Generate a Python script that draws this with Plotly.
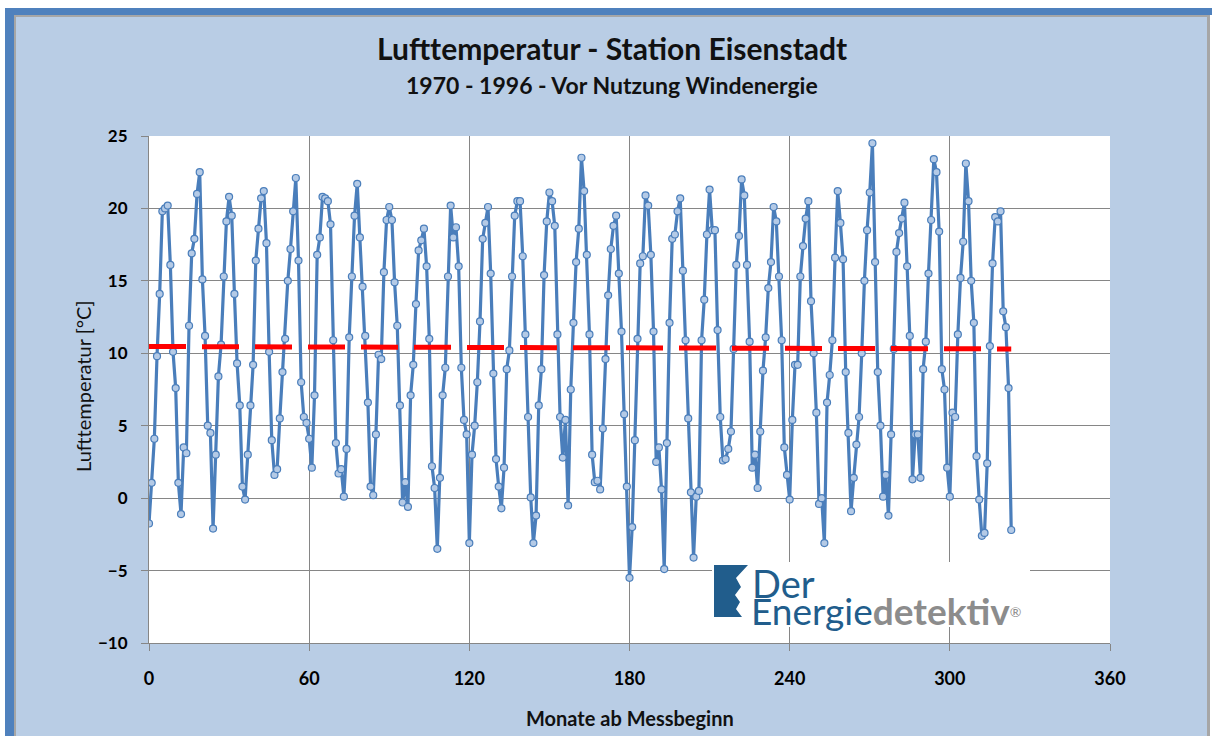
import plotly.graph_objects as go

W, H = 1212, 736
PL, PR, PT, PB = 149, 1110, 136, 643  # plot area in pixels

months = list(range(324))
temperature = [
    -1.75, 1.06, 4.1, 9.8, 14.1, 19.8, 20.0, 20.2, 16.1, 10.1, 7.6, 1.06,
    -1.1, 3.5, 3.1, 11.9, 16.9, 17.9, 21.0, 22.5, 15.1, 11.2, 5.0, 4.5,
    -2.1, 3.0, 8.4, 10.6, 15.3, 19.1, 20.8, 19.5, 14.1, 9.3, 6.4, 0.8,
    -0.1, 3.0, 6.4, 9.2, 16.4, 18.6, 20.7, 21.2, 17.6, 10.1, 4.0, 1.6,
    2.0, 5.5, 8.7, 11.0, 15.0, 17.2, 19.8, 22.1, 16.4, 8.0, 5.6, 5.2,
    4.1, 2.1, 7.1, 16.8, 18.0, 20.8, 20.7, 20.5, 18.9, 10.9, 3.8, 1.7,
    2.0, 0.1, 3.4, 11.1, 15.3, 19.5, 21.7, 18.0, 14.6, 11.2, 6.6, 0.8,
    0.2, 4.4, 9.9, 9.6, 15.6, 19.2, 20.1, 19.2, 14.9, 11.9, 6.4, -0.3,
    1.1, -0.6, 7.1, 9.2, 13.4, 17.1, 17.8, 18.6, 16.0, 11.0, 2.2, 0.7,
    -3.5, 1.4, 7.1, 9.0, 15.3, 20.2, 18.0, 18.7, 16.0, 9.0, 5.4, 4.4,
    -3.1, 3.0, 5.0, 8.0, 12.2, 17.9, 19.0, 20.1, 15.5, 8.6, 2.7, 0.8,
    -0.7, 2.1, 8.9, 10.2, 15.3, 19.5, 20.5, 20.5, 16.7, 11.3, 5.6, 0.05,
    -3.1, -1.2, 6.4, 8.9, 15.4, 19.1, 21.1, 20.5, 18.8, 11.3, 5.6, 2.8,
    5.4, -0.5, 7.5, 12.1, 16.3, 18.6, 23.5, 21.2, 16.8, 11.3, 3.0, 1.1,
    1.2, 0.6, 4.8, 9.6, 14.0, 17.2, 18.8, 19.5, 15.5, 11.5, 5.8, 0.8,
    -5.5, -2.0, 4.0, 11.0, 16.2, 16.7, 20.9, 20.2, 16.8, 11.5, 2.5, 3.5,
    0.6, -4.9, 3.8, 12.1, 17.9, 18.2, 19.8, 20.7, 15.7, 10.9, 5.5, 0.4,
    -4.1, 0.1, 0.5, 10.9, 13.7, 18.2, 21.3, 18.5, 18.5, 11.6, 5.6, 2.6,
    2.7, 3.4, 4.6, 10.3, 16.1, 18.1, 22.0, 20.9, 16.1, 10.8, 2.1, 3.0,
    0.7, 4.6, 8.8, 11.1, 14.5, 16.3, 20.1, 19.1, 15.3, 10.9, 3.5, 1.6,
    -0.1, 5.4, 9.2, 9.2, 15.3, 17.4, 19.3, 20.5, 13.6, 10.0, 5.9, -0.4,
    0.0, -3.1, 6.6, 8.5, 10.9, 16.6, 21.2, 19.0, 16.5, 8.7, 4.5, -0.9,
    1.4, 3.7, 5.6, 10.0, 15.0, 18.5, 21.1, 24.5, 16.3, 8.7, 5.0, 0.1,
    1.6, -1.2, 4.4, 10.3, 17.0, 18.3, 19.3, 20.4, 16.0, 11.2, 1.3, 4.4,
    4.4, 1.4, 8.9, 10.8, 15.5, 19.2, 23.4, 22.5, 18.4, 8.9, 7.5, 2.1,
    0.1, 5.9, 5.6, 11.3, 15.2, 17.7, 23.1, 20.5, 15.0, 12.1, 2.9, -0.1,
    -2.6, -2.4, 2.4, 10.5, 16.2, 19.4, 19.1, 19.8, 12.9, 11.8, 7.6, -2.2,
]
trend_months = [0, 323]
trend_values = [10.47, 10.3]

x_ticks = [0, 60, 120, 180, 240, 300, 360]
y_ticks = [-10, -5, 0, 5, 10, 15, 20, 25]

title = "Lufttemperatur - Station Eisenstadt"
subtitle = "1970 - 1996 - Vor Nutzung Windenergie"
x_title = "Monate ab Messbeginn"
y_title = "Lufttemperatur [°C]"


def px(x):
    return (x - PL) / (PR - PL)


def py(y):
    return (PB - y) / (PB - PT)


FONT = "Lato"
BLUE = "#4A7EBB"

fig = go.Figure()
fig.add_trace(go.Scatter(
    x=months, y=temperature, mode="lines+markers",
    line=dict(color=BLUE, width=3.2),
    marker=dict(symbol="circle", size=7, color="#B4CAE6",
                line=dict(color=BLUE, width=1.2)),
    showlegend=False, hoverinfo="skip",
))
fig.add_trace(go.Scatter(
    x=trend_months, y=trend_values, mode="lines",
    line=dict(color="#FF0000", width=5, dash="37px,16px"),
    showlegend=False, hoverinfo="skip",
))

shapes = []


def rect(x0, y0, x1, y1, color, layer="below"):
    shapes.append(dict(type="rect", xref="paper", yref="paper",
                       x0=px(x0), x1=px(x1), y0=py(y1), y1=py(y0),
                       fillcolor=color, line=dict(width=0), layer=layer))


# frame
rect(0, 0, 1212, 8, "white")
rect(0, 0, 5, 736, "white")
rect(5, 8, 1212, 15, "#4F81BD")
rect(5, 8, 14, 736, "#4F81BD")
rect(14, 15, 1208, 17, "#A6A6A6")
rect(14, 15, 16, 736, "#A6A6A6")
rect(1207, 15, 1210, 736, "#A6A6A6")
rect(1210, 15, 1212, 736, "white")

# logo background
rect(712, 562, 1030, 627, "white", layer="above")
icon = [(714, 565), (748, 565), (736, 578), (741, 587), (735, 595),
        (740, 602), (736, 609), (742, 617), (714, 617)]
path = "M " + " L ".join(f"{px(a):.5f},{py(b):.5f}" for a, b in icon) + " Z"
shapes.append(dict(type="path", xref="paper", yref="paper", path=path,
                   fillcolor="#215D8C", line=dict(width=0), layer="above"))


def ann(text, x, y, size, color="#111", xanchor="center", angle=0):
    return dict(text=text, x=px(x), y=py(y), xref="paper", yref="paper",
                showarrow=False, xanchor=xanchor, yanchor="middle",
                textangle=angle, font=dict(family=FONT, size=size, color=color))


annotations = [
    ann(f"<b>{title}</b>", 612, 48, 30),
    ann(f"<b>{subtitle}</b>", 612, 85, 23),
    ann(y_title, 83, 386, 20, angle=-90),
    ann(f"<b>{x_title}</b>", 630, 718, 20),
    ann("Der", 750, 583, 38, color="#215D8C", xanchor="left"),
    ann("Energie<span style='color:#8C8C8C'><b>detektiv</b></span>"
        "<span style='color:#8C8C8C;font-size:20px'><sup>®</sup></span>",
        749, 610, 37, color="#215D8C", xanchor="left"),
]

fig.update_layout(
    width=W, height=H,
    margin=dict(l=PL, r=W - PR, t=PT, b=H - PB, pad=0),
    paper_bgcolor="#B9CDE5", plot_bgcolor="white",
    shapes=shapes, annotations=annotations,
    xaxis=dict(range=[0, 360], tickvals=x_ticks, showgrid=True,
               gridcolor="#868686", gridwidth=1, zeroline=False,
               showline=True, linecolor="#868686", linewidth=1,
               ticks="outside", ticklen=7, tickcolor="#868686",
               ticklabelstandoff=12,
               tickfont=dict(family=FONT, size=18, color="black", weight="bold")),
    yaxis=dict(range=[-10, 25], tickvals=y_ticks, showgrid=True,
               gridcolor="#868686", gridwidth=1, zeroline=False,
               showline=True, linecolor="#868686", linewidth=1,
               ticks="outside", ticklen=7, tickcolor="#868686",
               ticklabelstandoff=10,
               tickfont=dict(family=FONT, size=17, color="black", weight="bold")),
)

fig.write_html("out.html", config={"displayModeBar": False},
               post_script="document.body.style.margin='0';"
                           "document.body.style.padding='0';")
